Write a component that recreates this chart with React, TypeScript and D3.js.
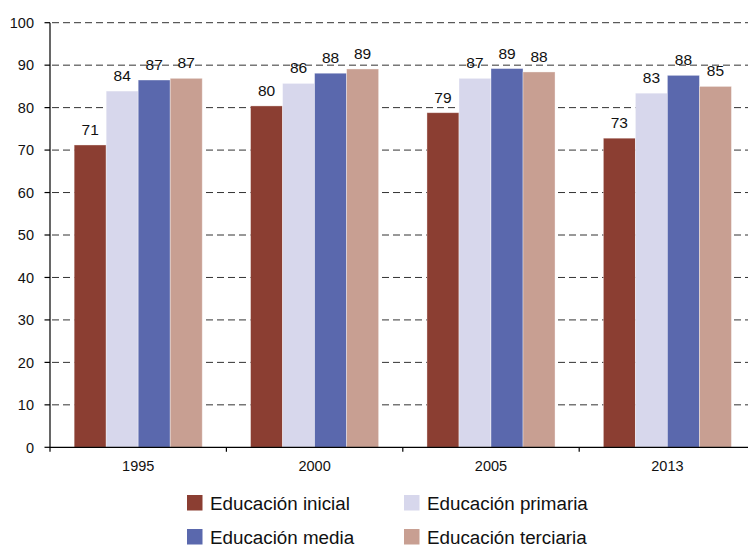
import React from "react";
import * as d3 from "d3";

const categories = ["1995", "2000", "2005", "2013"];
const seriesNames = ["Educación inicial", "Educación primaria", "Educación media", "Educación terciaria"];
const inicial = [71.2, 80.4, 78.8, 72.8];
const primaria = [83.9, 85.7, 86.9, 83.4];
const media = [86.5, 88.1, 89.2, 87.6];
const terciaria = [86.9, 89.1, 88.4, 85.0];
const yTicks = [0, 10, 20, 30, 40, 50, 60, 70, 80, 90, 100];
const colors = ["#8B3E32", "#D7D7EC", "#5A68AD", "#C89F92"];

const seriesValues = [inicial, primaria, media, terciaria];

const W = 748;
const H = 547;
const FONT = "'Liberation Sans', Arial, sans-serif";

export default function App() {
  const y = d3.scaleLinear().domain([0, 100]).range([447.3, 22.7]);
  const bandW = 176.4;
  const x0 = d3.scaleBand<string>().domain(categories).range([50, 50 + bandW * categories.length]).padding(0);
  const bw = x0.bandwidth();
  const groupW = bw * 0.726;
  const off = (bw - groupW) / 2;
  const x1 = d3.scaleBand<string>().domain(seriesNames).range([off, off + groupW]).padding(0);

  const legendPos = [
    { x: 187, y: 495 },
    { x: 404, y: 495 },
    { x: 187, y: 529 },
    { x: 404, y: 529 },
  ];

  return (
    <>
      <style>{"body{margin:0}"}</style>
      <svg width={W} height={H} style={{ display: "block", fontFamily: FONT }}>
        {yTicks.filter((t) => t > 0).map((t) => (
          <line key={"g" + t} x1={52} x2={W} y1={y(t)} y2={y(t)} stroke="#333" strokeWidth={1} strokeDasharray="7,4" />
        ))}
        {categories.map((c, ci) => (
          <g key={c} transform={`translate(${x0(c)},0)`}>
            {seriesNames.map((s, si) => {
              const v = seriesValues[si][ci];
              return (
                <rect key={s} x={x1(s)} y={y(v)} width={x1.bandwidth()} height={y(0) - y(v)} fill={colors[si]} stroke="rgba(255,255,255,0.45)" strokeWidth={0.8} />
              );
            })}
            {seriesNames.map((s, si) => {
              const v = seriesValues[si][ci];
              return (
                <text key={"l" + s} x={(x1(s) as number) + x1.bandwidth() / 2} y={y(v) - 10} textAnchor="middle" fontSize={15.5} fill="#111">
                  {Math.round(v)}
                </text>
              );
            })}
          </g>
        ))}
        <line x1={50} x2={50} y1={y(100)} y2={y(0) + 4.5} stroke="#000" strokeWidth={1.2} />
        {yTicks.map((t) => (
          <g key={"t" + t}>
            <line x1={44.5} x2={50} y1={y(t)} y2={y(t)} stroke="#000" strokeWidth={1.2} />
            <text x={34} y={y(t) + 5.2} textAnchor="end" fontSize={14.5} fill="#111">{t}</text>
          </g>
        ))}
        <line x1={50} x2={W} y1={y(0)} y2={y(0)} stroke="#000" strokeWidth={1.2} />
        {categories.map((c) => (
          <g key={"x" + c}>
            <line x1={(x0(c) as number) + bw} x2={(x0(c) as number) + bw} y1={y(0)} y2={y(0) + 4.5} stroke="#000" strokeWidth={1.2} />
            <text x={(x0(c) as number) + bw / 2} y={471} textAnchor="middle" fontSize={14.5} fill="#111">{c}</text>
          </g>
        ))}
        {seriesNames.map((s, i) => (
          <g key={"lg" + s}>
            <rect x={legendPos[i].x} y={legendPos[i].y} width={15.5} height={15.5} fill={colors[i]} />
            <text x={legendPos[i].x + 23} y={legendPos[i].y + 14.5} fontSize={18.8} fill="#111">{s}</text>
          </g>
        ))}
      </svg>
    </>
  );
}
